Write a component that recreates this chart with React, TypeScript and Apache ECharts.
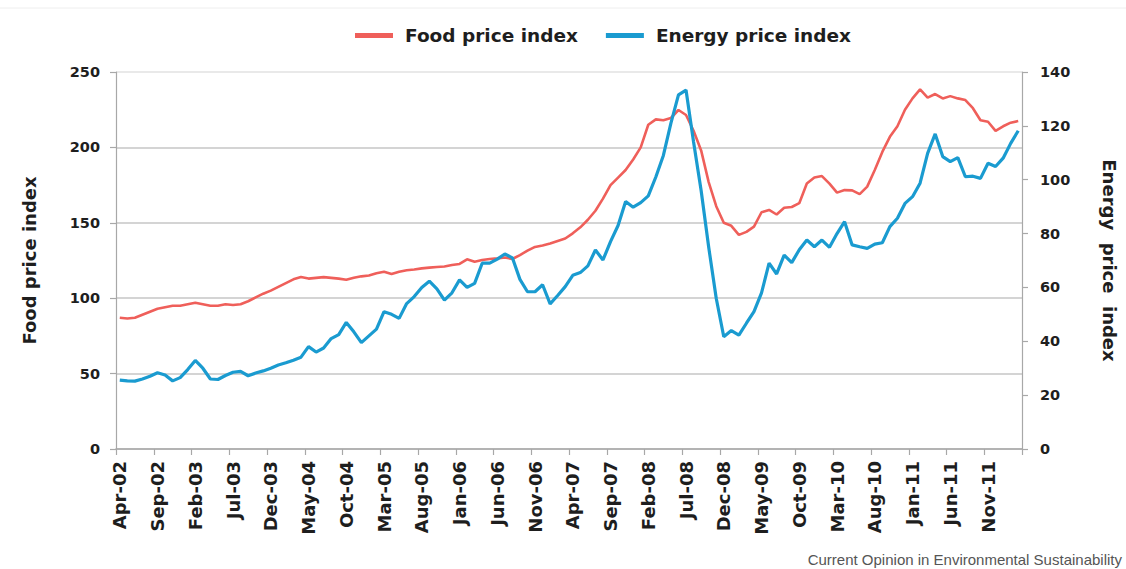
import React, { useEffect, useRef } from "react";
import * as echarts from "echarts";

const MONTHS = ["Jan", "Feb", "Mar", "Apr", "May", "Jun", "Jul", "Aug", "Sep", "Oct", "Nov", "Dec"];
const START_YEAR = 2002;
const START_MONTH = 3; // April
const MONTH_COUNT = 120; // Apr-02 .. Mar-12

const categories: string[] = [];
for (let k = 0; k < MONTH_COUNT; k++) {
  const m = (START_MONTH + k) % 12;
  const y = START_YEAR + Math.floor((START_MONTH + k) / 12);
  categories.push(`${MONTHS[m]}-${String(y % 100).padStart(2, "0")}`);
}

const foodPriceIndex = [
  87, 86.5, 87, 89, 91, 93, 94, 95, 95, 96,
  97, 96, 95, 95, 96, 95.5, 96, 98, 100.5, 103,
  105, 107.5, 110, 112.5, 114, 113, 113.5, 114, 113.5, 113,
  112.2, 113.5, 114.5, 115, 116.5, 117.5, 116, 117.5, 118.5, 119,
  119.8, 120.3, 120.7, 121, 122, 122.7, 125.8, 124.2, 125.3, 126,
  126.4, 127, 126, 128.6, 131.5, 134, 135, 136.3, 138, 139.6,
  143, 147, 152, 158, 166, 175, 180, 185, 192, 200,
  215, 218.6, 218, 219.5, 224.8, 221.5, 211, 198, 177, 161,
  150, 148, 142, 144, 147.5, 157, 158.5, 155.5, 160, 160.5,
  163, 176, 180, 181, 176, 170, 171.7, 171.5, 169, 174,
  185, 197, 207, 214, 225, 232.5, 238.5, 233, 235.4, 232.5,
  234, 232.5, 231.4, 226, 218, 217, 211, 214, 216.4, 217.5,
];

const energyPriceIndex = [
  25.6, 25.3, 25.2, 26, 27, 28.3, 27.5, 25.3, 26.5, 29.5,
  32.9, 30, 26, 25.8, 27.3, 28.5, 28.8, 27.2, 28.2, 29,
  30, 31.2, 32, 33, 34.1, 38, 36, 37.5, 41, 42.5,
  47, 43.5, 39.5, 42, 44.5, 51, 50, 48.5, 54, 56.6,
  60, 62.3, 59.5, 55.3, 58, 62.8, 60, 61.5, 69, 69,
  70.5, 72.4, 71, 63, 58.4, 58.4, 61, 53.9, 57, 60.3,
  64.5, 65.5, 68, 73.9, 70.2, 77, 83, 91.9, 89.8, 91.5,
  94, 101, 109, 121, 131.5, 133.3, 114, 96, 75, 56,
  41.7, 44, 42.3, 46.7, 51, 58, 69, 65, 72, 69.2,
  74, 77.6, 75.1, 77.6, 74.9, 80, 84.4, 75.8, 75.1, 74.5,
  76.1, 76.6, 82.6, 85.7, 91.2, 93.7, 98.7, 109.8, 117, 108.6,
  106.7, 108.2, 101.1, 101.3, 100.5, 106.1, 104.9, 108, 113.5, 118.2,
];

const leftTicks = { min: 0, max: 250, interval: 50 };
const rightTicks = { min: 0, max: 140, interval: 20 };

const RED = "#ef5f5a";
const BLUE = "#1a9bd0";
const AXIS_GRAY = "#a8a8a8";
const GRID_GRAY = "#c6c6c6";
const BOLD_FONT = "DejaVu Sans";

export default function App() {
  const ref = useRef<HTMLDivElement>(null);

  useEffect(() => {
    if (!ref.current) return;
    const chart = echarts.init(ref.current, undefined, { renderer: "svg" });
    chart.setOption({
      animation: false,
      backgroundColor: "#ffffff",
      legend: {
        left: 350,
        top: 21,
        itemWidth: 38,
        itemHeight: 5,
        itemGap: 28,
        icon: "rect",
        textStyle: {
          fontFamily: BOLD_FONT,
          fontWeight: "bold",
          fontSize: 18.5,
          color: "#1e1e1e",
          padding: [0, 0, 0, 7],
        },
        data: ["Food price index", "Energy price index"],
      },
      grid: { left: 116, right: 103, top: 72, bottom: 120, containLabel: false },
      xAxis: {
        type: "category",
        data: categories,
        boundaryGap: true,
        axisLine: { show: true, lineStyle: { color: AXIS_GRAY, width: 1.5 } },
        axisTick: { show: true, interval: 4, length: 6, lineStyle: { color: AXIS_GRAY, width: 1.2 } },
        axisLabel: {
          interval: 4,
          rotate: 90,
          margin: 12,
          fontFamily: BOLD_FONT,
          fontWeight: "bold",
          fontSize: 18,
          color: "#1e1e1e",
        },
        splitLine: { show: false },
      },
      yAxis: [
        {
          type: "value",
          position: "left",
          min: leftTicks.min,
          max: leftTicks.max,
          interval: leftTicks.interval,
          name: "Food price index",
          nameLocation: "middle",
          nameGap: 78,
          nameTextStyle: { fontFamily: BOLD_FONT, fontWeight: "bold", fontSize: 18, color: "#1e1e1e" },
          axisLine: { show: true, lineStyle: { color: AXIS_GRAY, width: 1.2 } },
          axisTick: { show: true, length: 6, lineStyle: { color: AXIS_GRAY, width: 1.2 } },
          axisLabel: { margin: 16, fontFamily: BOLD_FONT, fontWeight: "bold", fontSize: 14.5, color: "#1e1e1e" },
          splitLine: {
            show: true,
            lineStyle: {
              color: [GRID_GRAY, GRID_GRAY, GRID_GRAY, GRID_GRAY, GRID_GRAY, "#e2e2e2"],
              width: 1.6,
            },
          },
        },
        {
          type: "value",
          position: "right",
          min: rightTicks.min,
          max: rightTicks.max,
          interval: rightTicks.interval,
          name: "Energy  price  index",
          nameLocation: "middle",
          nameRotate: -90,
          nameGap: 78,
          nameTextStyle: { fontFamily: BOLD_FONT, fontWeight: "bold", fontSize: 18, color: "#1e1e1e" },
          axisLine: { show: true, lineStyle: { color: AXIS_GRAY, width: 1.2 } },
          axisTick: { show: true, length: 6, lineStyle: { color: AXIS_GRAY, width: 1.2 } },
          axisLabel: { margin: 18, fontFamily: BOLD_FONT, fontWeight: "bold", fontSize: 14.5, color: "#1e1e1e" },
          splitLine: { show: false },
        },
      ],
      series: [
        {
          name: "Food price index",
          type: "line",
          yAxisIndex: 0,
          data: foodPriceIndex,
          showSymbol: false,
          symbol: "none",
          color: RED,
          lineStyle: { color: RED, width: 2.6 },
          z: 3,
        },
        {
          name: "Energy price index",
          type: "line",
          yAxisIndex: 1,
          data: energyPriceIndex,
          showSymbol: false,
          symbol: "none",
          color: BLUE,
          lineStyle: { color: BLUE, width: 3.2 },
          z: 4,
        },
      ],
      graphic: [
        {
          type: "line",
          shape: { x1: 0, y1: 8, x2: 1126, y2: 8 },
          style: { stroke: "#eeeeee", lineWidth: 1 },
        },
        {
          type: "text",
          right: 4,
          top: 552,
          style: {
            text: "Current Opinion in Environmental Sustainability",
            fontFamily: "Liberation Sans",
            fontSize: 15,
            fill: "#555555",
          },
        },
      ],
    });
    return () => chart.dispose();
  }, []);

  return (
    <div
      ref={ref}
      style={{ position: "absolute", left: 0, top: 0, width: 1126, height: 569, background: "#fff" }}
    />
  );
}
